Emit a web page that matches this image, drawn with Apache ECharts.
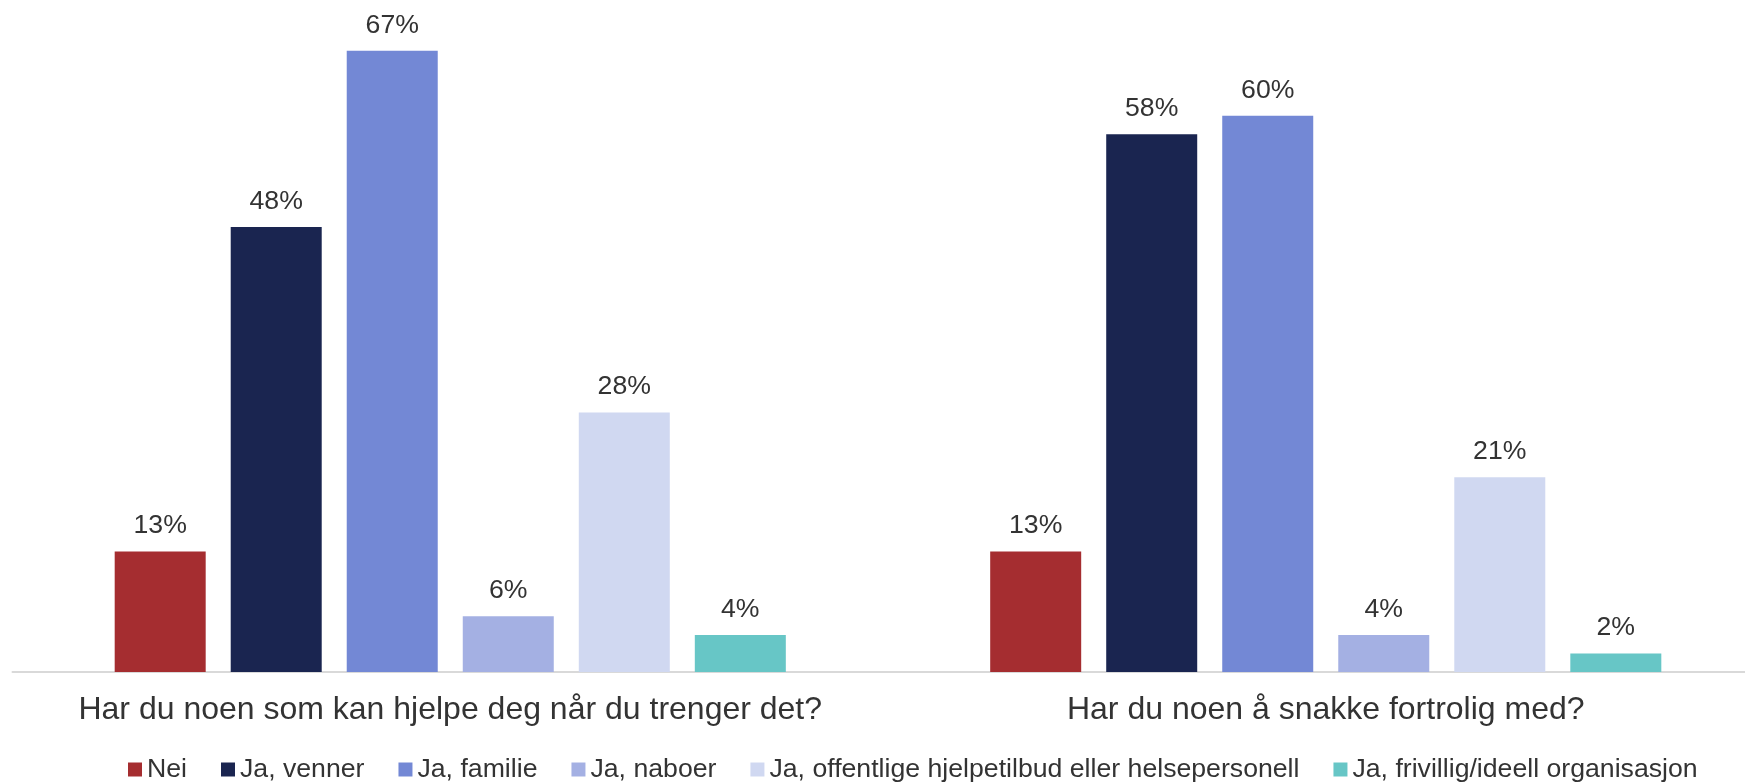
<!DOCTYPE html>
<html>
<head>
<meta charset="utf-8">
<script src="https://cdn.jsdelivr.net/npm/echarts@6/dist/echarts.min.js"></script>
<style>
html,body{margin:0;padding:0;background:#fff;}
#chart{width:1745px;height:784px;}
</style>
</head>
<body>
<div id="chart"></div>
<script>
const categories = ['Har du noen som kan hjelpe deg når du trenger det?', 'Har du noen å snakke fortrolig med?'];
const seriesNames = ['Nei', 'Ja, venner', 'Ja, familie', 'Ja, naboer', 'Ja, offentlige hjelpetilbud eller helsepersonell', 'Ja, frivillig/ideell organisasjon'];
const nei = [13, 13];
const venner = [48, 58];
const familie = [67, 60];
const naboer = [6, 4];
const offentlige = [28, 21];
const frivillig = [4, 2];
const seriesValues = [nei, venner, familie, naboer, offentlige, frivillig];
const colors = ['#A52D30', '#1A2550', '#7388D5', '#A4B0E3', '#D0D8F1', '#67C6C6'];

const chart = echarts.init(document.getElementById('chart'));
const font = '"Liberation Sans", Arial, sans-serif';
chart.setOption({
  animation: false,
  textStyle: { fontFamily: font },
  legend: {
    left: 123,
    top: 751,
    itemWidth: 14,
    itemHeight: 14,
    itemGap: 34,
    icon: 'rect',
    textStyle: { fontSize: 26.67, color: '#333', fontFamily: font },
    data: seriesNames
  },
  grid: { left: 12.5, width: 1751, top: 23, bottom: 112, containLabel: false, outerBoundsMode: 'none' },
  xAxis: {
    type: 'category',
    data: categories,
    axisTick: { show: false },
    axisLine: { lineStyle: { color: '#D9D9D9', width: 2 } },
    axisLabel: { fontSize: 32, color: '#333', margin: 22, fontFamily: font, interval: 0 }
  },
  yAxis: {
    type: 'value',
    min: 0,
    max: 70,
    show: false,
    splitLine: { show: false }
  },
  series: seriesNames.map((name, i) => ({
    name: name,
    type: 'bar',
    data: seriesValues[i],
    barWidth: 91,
    barGap: '27.5%',
    itemStyle: { color: colors[i] },
    label: {
      show: true,
      position: 'top',
      distance: 12,
      formatter: '{c}%',
      fontSize: 26.67,
      color: '#333',
      fontFamily: font
    }
  }))
});
</script>
</body>
</html>
